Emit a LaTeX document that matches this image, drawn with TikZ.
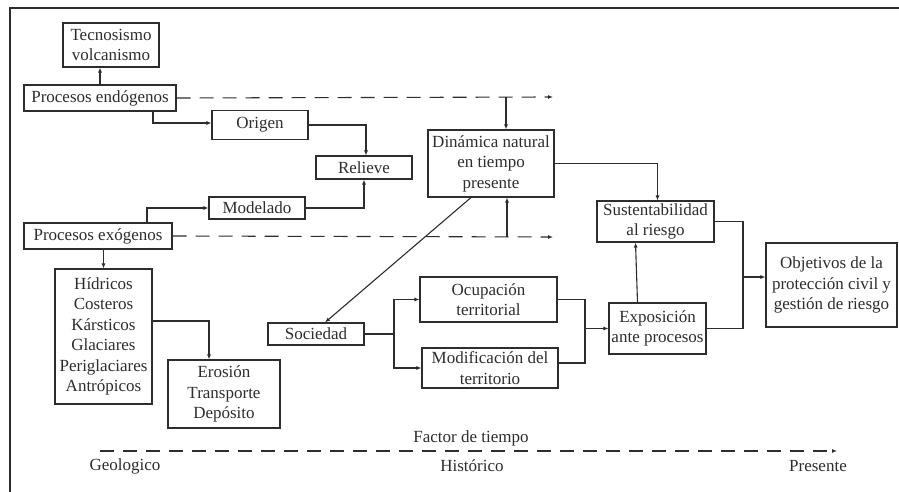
\documentclass[tikz,border=0pt]{standalone}
\usepackage{fontspec}
\setmainfont{Liberation Serif}
\usetikzlibrary{arrows.meta,calc}
\definecolor{ink}{RGB}{45,45,45}
\begin{document}
\begin{tikzpicture}[x=1pt,y=-1pt,
  every node/.style={text=ink,font=\fontsize{17}{20.5}\selectfont},
  box/.style={draw=ink,line width=1.1pt,inner sep=0pt,align=center},
  conn/.style={draw=ink,line width=1.1pt},
  arr/.style={conn,-{Latex[length=5pt,width=4pt]}},
  dashline/.style={conn,dash pattern=on 14pt off 9pt,-{Latex[length=5pt,width=4pt]}},
  lbl/.style={inner sep=0pt}]
\useasboundingbox (0,0) rectangle (899,492);
\fill[white] (0,0) rectangle (899,492);
% frame
\draw[ink,line width=1.8pt] (10,492) -- (10,8) -- (899,8);

% nodes
\node[box,minimum width=96,minimum height=44] (tec) at (111,45) {Tecnosismo\\volcanismo};
\node[box,minimum width=152,minimum height=26] (endo) at (100,98) {Procesos endógenos};
\node[box,minimum width=96,minimum height=29] (origen) at (260,125) {Origen};
\node[box,minimum width=96,minimum height=23] (relieve) at (364,167.5) {Relieve};
\node[box,minimum width=96,minimum height=22] (modelado) at (257,208) {Modelado};
\node[box,minimum width=148,minimum height=26] (exo) at (98,236) {Procesos exógenos};
\node[box,minimum width=126,minimum height=67] (din) at (491,163.5) {Dinámica natural\\en tiempo\\presente};
\node[box,minimum width=117,minimum height=41] (sus) at (655.5,221.5) {Sustentabilidad\\al riesgo};
\node[box,minimum width=97,minimum height=51] (expo) at (657.5,328.5) {Exposición\\ante procesos};
\node[box,minimum width=131,minimum height=84] (obj) at (831.5,285) {Objetivos de la\\protección civil y\\gestión de riesgo};
\node[box,minimum width=97,minimum height=135] (hid) at (103.5,336.5) {Hídricos\\Costeros\\Kársticos\\Glaciares\\Periglaciares\\Antrópicos};
\node[box,minimum width=112,minimum height=68] (ero) at (224,394) {Erosión\\Transporte\\Depósito};
\node[box,minimum width=96,minimum height=22] (soc) at (316,334) {Sociedad};
\node[box,minimum width=137,minimum height=45] (ocu) at (488.5,299.5) {Ocupación\\territorial};
\node[box,minimum width=136,minimum height=40] (mod) at (490,368) {Modificación del\\territorio};

% coordinates
\coordinate (dA) at (553,97);
\coordinate (dB) at (553,237);
\coordinate (dtop) at (506,97);
\coordinate (dbot) at (507,237);
\coordinate (jn) at (743,277);
\coordinate (split) at (394,334);
\coordinate (j2) at (585,328.5);
\coordinate (t0) at (100,451);
\coordinate (t1) at (837,451);

% connectors
\draw[arr] (endo.north) -- (endo.north |- tec.south);
\draw[dashline] (endo.east) -- (dA);
\draw[arr] ([xshift=53pt]endo.south) |- ([yshift=2pt]origen.west);
\draw[arr] (origen.east) -| ([xshift=2pt]relieve.north);
\draw[arr] (modelado.east) -| (relieve.south);
\draw[arr] ([xshift=49pt]exo.north) |- (modelado.west);
\draw[dashline] (exo.east) -- (dB);
\draw[arr] (dtop) -- (dtop |- din.north);
\draw[arr] (dbot) -- (dbot |- din.south);
\draw[arr] (din.east) -| ([xshift=2pt]sus.north);
\draw[arr] ([xshift=-20pt]expo.north) -- ([xshift=-20pt]sus.south);
\draw[conn] (sus.east) -| (jn);
\draw[conn] (expo.east) -| (jn);
\draw[arr] (jn) -- (jn -| obj.west);
\draw[arr] (hid.north |- exo.south) -- (hid.north);
\draw[arr] ([yshift=15.5pt]hid.east) -| ([xshift=-15pt]ero.north);
\draw[arr] ([xshift=-20pt]din.south) -- ([xshift=9pt]soc.north);
\draw[conn] (soc.east) -- (split);
\draw[arr] (split) |- (ocu.west);
\draw[arr] (split) |- (mod.west);
\draw[conn] (ocu.east) -| (j2);
\draw[conn] ([yshift=5pt]mod.east) -| (j2);
\draw[arr] (j2) -- (expo.west);
\draw[dashline] (t0) -- (t1);

% texts
\node[lbl] (ft) at (471,438) {Factor de tiempo};
\node[lbl] (geo) at (125,466) {Geologico};
\node[lbl] (his) at (472,466) {Histórico};
\node[lbl] (pre) at (818,466) {Presente};
\end{tikzpicture}
\end{document}
